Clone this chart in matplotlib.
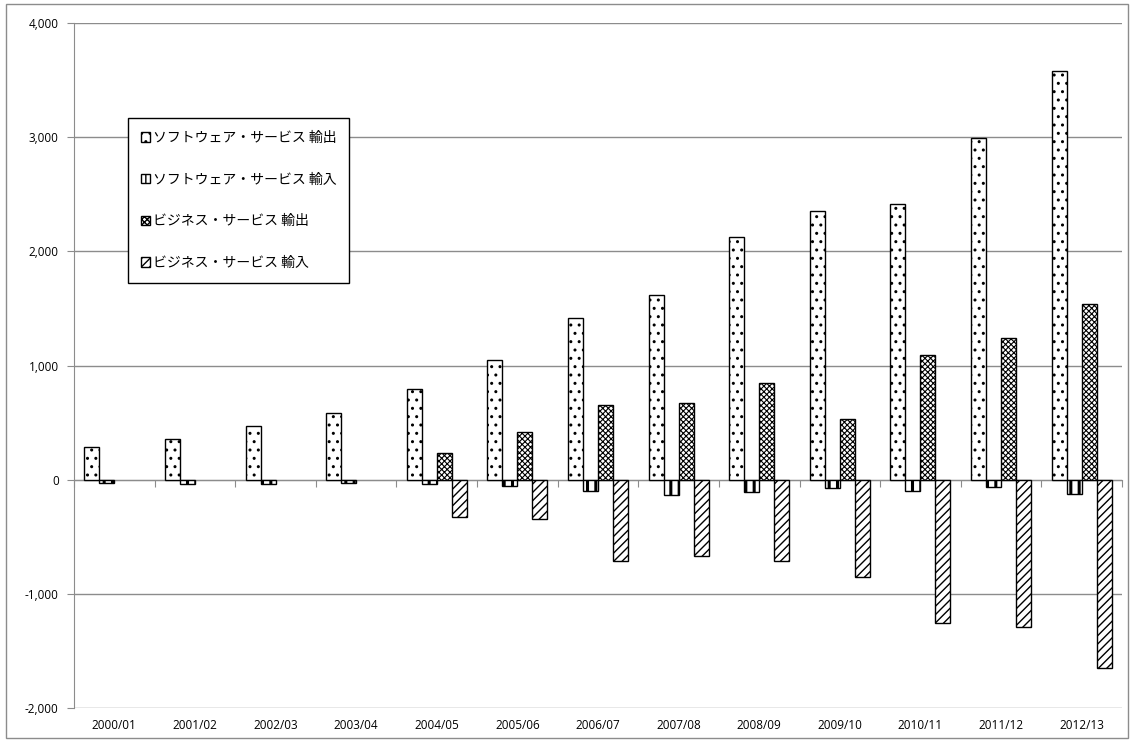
import numpy as np
import matplotlib
matplotlib.use("Agg")
import matplotlib.pyplot as plt
from matplotlib.patches import Rectangle

plt.rcParams['font.family'] = ['Noto Sans CJK JP', 'DejaVu Sans']

# 年度と各系列（単位：百万ドル相当）
years = ["2000/01", "2001/02", "2002/03", "2003/04", "2004/05", "2005/06", "2006/07",
         "2007/08", "2008/09", "2009/10", "2010/11", "2011/12", "2012/13"]
sw_export = [290, 360, 466, 584, 794, 1045, 1418, 1620, 2125, 2355, 2412, 2991, 3579]
sw_import = [-30, -35, -38, -25, -35, -55, -102, -131, -110, -75, -102, -62, -128]
biz_export = [np.nan, np.nan, np.nan, np.nan, 231, 415, 656, 670, 850, 535, 1092, 1240, 1541]
biz_import = [np.nan, np.nan, np.nan, np.nan, -327, -345, -713, -670, -713, -853, -1259, -1291, -1651]

labels = ["ソフトウェア・サービス 輸出", "ソフトウェア・サービス 輸入",
          "ビジネス・サービス 輸出", "ビジネス・サービス 輸入"]
hatches = ["..", "||", "xxxxxx", "////"]
hatch_lw = [1.0, 2.2, 0.8, 1.0]

fig = plt.figure(figsize=(11.34, 7.42), dpi=100)
ax = fig.add_axes([0.0653, 0.0458, 0.9241, 0.9232])

x = np.arange(len(years))
w = 0.186
series = [sw_export, sw_import, biz_export, biz_import]
for i, vals in enumerate(series):
    bars = ax.bar(x + (i - 1.5) * w, vals, w, color="white", edgecolor="black",
                  linewidth=1.0, hatch=hatches[i], label=labels[i], zorder=3)
    for b in bars:
        if hasattr(b, "set_hatch_linewidth"):
            b.set_hatch_linewidth(hatch_lw[i])

ax.set_xlim(-0.5, len(years) - 0.5)
ax.set_ylim(-2000, 4000)
ax.set_yticks(np.arange(-2000, 4001, 1000))
ax.yaxis.set_major_formatter(matplotlib.ticker.FuncFormatter(lambda v, p: f"{int(v):,}"))
ax.grid(axis="y", color="#8c8c8c", linewidth=1.0, zorder=0)

for s in ["top", "right", "bottom"]:
    ax.spines[s].set_visible(False)
ax.spines["left"].set_color("#8c8c8c")
ax.tick_params(axis="y", direction="out", length=5, color="#8c8c8c",
               labelsize=8.5, pad=6)

# 年度ラベル（下端）
ax.set_xticks(x)
ax.set_xticklabels(years, fontfamily=["Open Sans", "DejaVu Sans"])
ax.tick_params(axis="x", length=0, labelsize=8.5, pad=8)
for t in ax.get_yticklabels():
    t.set_fontfamily(["Open Sans", "DejaVu Sans"])

# ゼロ線と区切り目盛
zero_ax = ax.secondary_xaxis(2000 / 6000)
zero_ax.set_xticks(np.arange(-0.5, len(years), 1.0))
zero_ax.set_xticklabels([])
zero_ax.tick_params(direction="out", length=5, color="#8c8c8c")
zero_ax.spines["bottom"].set_color("#8c8c8c")

leg = ax.legend(loc="upper left", bbox_to_anchor=(0.0515, 0.861), fontsize=10,
                frameon=True, fancybox=False, edgecolor="black", framealpha=1,
                handlelength=0.7, handleheight=0.7, handletextpad=0.2,
                labelspacing=2.0, borderpad=0.9, borderaxespad=0)
leg.get_frame().set_linewidth(1.0)
leg.set_zorder(5)

# 外枠
fig.patches.append(Rectangle((0.005, 0.006), 0.99, 0.988, transform=fig.transFigure,
                             fill=False, edgecolor="#8c8c8c", linewidth=1.0))

fig.savefig("out.png", dpi=100)
